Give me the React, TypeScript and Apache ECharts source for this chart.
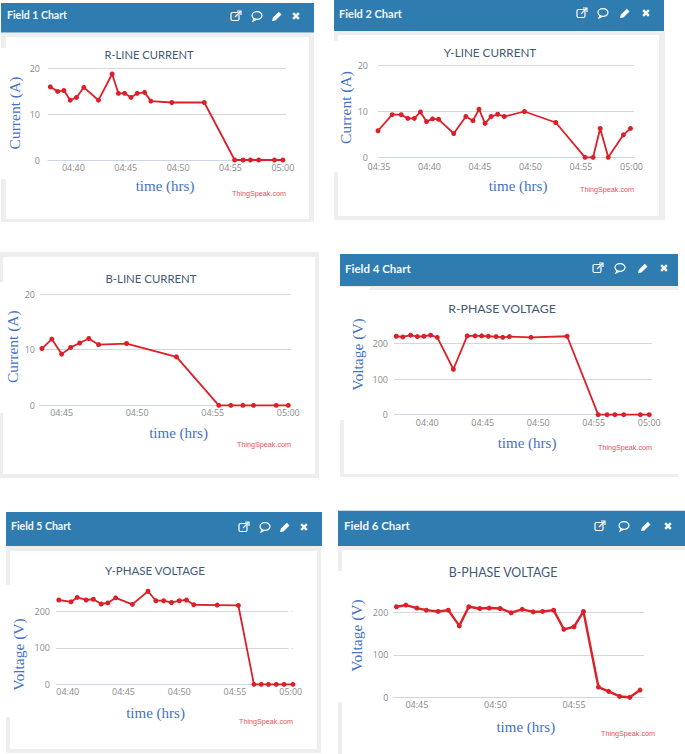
import React, { useEffect, useRef } from 'react';
import * as echarts from 'echarts';

// x values are minutes after 04:00
const field1Minutes = [37.8, 38.5, 39.1, 39.7, 40.3, 41.0, 42.4, 43.7, 44.3, 44.9, 45.5, 46.1, 46.8, 47.4, 49.4, 52.5, 55.4, 56.2, 56.9, 57.7, 59.2, 60.0];
const field1Values = [15.9, 14.9, 15.1, 13.0, 13.6, 15.8, 13.0, 18.7, 14.5, 14.5, 13.6, 14.5, 14.7, 12.8, 12.5, 12.5, 0, 0, 0, 0, 0, 0];

const field2Minutes = [34.9, 36.3, 37.2, 37.85, 38.5, 39.1, 39.7, 40.3, 40.9, 42.4, 43.6, 44.3, 44.9, 45.5, 46.1, 46.75, 47.4, 49.4, 52.5, 55.4, 56.2, 56.9, 57.7, 59.2, 59.9];
const field2Values = [5.8, 9.3, 9.3, 8.5, 8.5, 9.9, 7.8, 8.4, 8.3, 5.2, 8.9, 8.0, 10.5, 7.4, 8.9, 9.4, 8.9, 10.0, 7.6, 0, 0, 6.3, 0, 4.9, 6.3];

const field3Minutes = [43.7, 44.35, 45.0, 45.6, 46.2, 46.8, 47.45, 49.3, 52.6, 55.4, 56.2, 57.0, 57.7, 59.2, 60.0];
const field3Values = [10.2, 11.9, 9.2, 10.4, 11.2, 12.0, 10.9, 11.1, 8.7, 0, 0, 0, 0, 0, 0];

const field4Minutes = [37.2, 37.8, 38.5, 39.1, 39.7, 40.3, 40.9, 42.35, 43.6, 44.3, 44.9, 45.5, 46.2, 46.8, 47.4, 49.35, 52.6, 55.4, 56.2, 56.9, 57.7, 59.2, 60.0];
const field4Values = [221, 219, 224, 220, 221, 224, 218, 128, 222, 222, 222, 221, 220, 218, 220, 218, 221, 0, 0, 0, 0, 0, 0];

const field5Minutes = [39.2, 40.3, 40.85, 41.65, 42.3, 43.0, 43.6, 44.3, 45.8, 47.2, 47.9, 48.6, 49.3, 50.0, 50.65, 51.3, 53.4, 55.3, 56.7, 57.35, 58.0, 58.7, 59.4, 60.2];
const field5Values = [231, 226, 238, 231, 233, 220, 223, 237, 219, 255, 229, 229, 224, 229, 231, 218, 217, 216, 0, 0, 0, 0, 0, 0];

const field6Minutes = [43.7, 44.3, 45.0, 45.6, 46.35, 47.0, 47.7, 48.3, 49.0, 49.6, 50.3, 51.0, 51.7, 52.4, 53.0, 53.7, 54.35, 55.0, 55.6, 56.55, 57.2, 57.9, 58.55, 59.2];
const field6Values = [213, 217, 210, 205, 202, 205, 168, 213, 209, 210, 209, 199, 207, 201, 202, 205, 160, 166, 202, 24, 14, 2, 0, 17];

const ticksFrom35 = [35, 40, 45, 50, 55, 60];
const ticksFrom40 = [40, 45, 50, 55, 60];
const ticksFrom45 = [45, 50, 55, 60];

const BLUE = '#2e7cb0';
const RED = '#dc2029';
const AXIS_NAME = '#4472c4';
const SERIF = '"Liberation Serif", serif';

const charts = [
  { field: 'Field 1 Chart', headSize: 10.5, title: 'R-LINE CURRENT', titleSize: 11.2, yName: 'Current (A)', minutes: field1Minutes, values: field1Values, ticks: ticksFrom40, xMin: 37.58, xMax: 60.3, yMax: 20, step: 10, left: 48, right: 286, top: 68, bottom: 160, titleX: 149, titleY: 54, headX: 7, headY: 15, icons: [236, 257, 277, 296], iconY: 16, credit: [286, 193], xShift: -2, xGap: 18, xMargin: 3, yGap: 26, yShift: 1, yMargin: 8, lineWidth: 1.8 },
  { field: 'Field 2 Chart', headSize: 11, title: 'Y-LINE CURRENT', titleSize: 11.7, yName: 'Current (A)', minutes: field2Minutes, values: field2Values, ticks: ticksFrom35, xMin: 34.9, xMax: 60.25, yMax: 20, step: 10, left: 378, right: 634, top: 65.7, bottom: 157.3, titleX: 490, titleY: 52, headX: 339, headY: 13, icons: [582, 603, 625, 646], iconY: 13, credit: [634, 189], xShift: 12, xGap: 21, xMargin: 5, yGap: 24, yShift: 4, yMargin: 10, lineWidth: 1.8 },
  { field: '', headSize: 11, title: 'B-LINE CURRENT', titleSize: 11.4, yName: 'Current (A)', minutes: field3Minutes, values: field3Values, ticks: ticksFrom45, xMin: 43.57, xMax: 60.18, yMax: 20, step: 10, left: 40, right: 291, top: 294, bottom: 405.3, titleX: 151, titleY: 278, headX: 0, headY: 0, icons: [], iconY: 0, credit: [291, 444], xShift: 13, xGap: 20, xMargin: 3, yGap: 19, yShift: 3, yMargin: 5, lineWidth: 1.8 },
  { field: 'Field 4 Chart', headSize: 11.5, title: 'R-PHASE VOLTAGE', titleSize: 12.3, yName: 'Voltage (V)', minutes: field4Minutes, values: field4Values, ticks: ticksFrom40, xMin: 37.0, xMax: 60.25, yMax: 300, step: 100, left: 394, right: 652, top: 308.2, bottom: 414.7, titleX: 502, titleY: 308, headX: 345, headY: 268, icons: [598, 620, 643, 664], iconY: 268, credit: [652, 447], xShift: 4, xGap: 21, xMargin: 3, yGap: 29, yShift: 7, yMargin: 6, lineWidth: 1.8 },
  { field: 'Field 5 Chart', headSize: 10.5, title: 'Y-PHASE VOLTAGE', titleSize: 11.5, yName: 'Voltage (V)', minutes: field5Minutes, values: field5Values, ticks: ticksFrom40, xMin: 38.95, xMax: 60.2, yMax: 300, step: 100, left: 56, right: 293, top: 574.8, bottom: 684.3, titleX: 155, titleY: 570, headX: 11, headY: 526, icons: [244, 265, 285, 304], iconY: 527, credit: [293, 721], xShift: -19, xGap: 21, xMargin: 3, yGap: 30, yShift: -25, yMargin: 6, lineWidth: 1.8 },
  { field: 'Field 6 Chart', headSize: 11.5, title: 'B-PHASE VOLTAGE', titleSize: 12.4, yName: 'Voltage (V)', minutes: field6Minutes, values: field6Values, ticks: ticksFrom45, xMin: 43.5, xMax: 59.47, yMax: 300, step: 100, left: 393.3, right: 644.3, top: 569.8, bottom: 697.3, titleX: 503, titleY: 572, headX: 344, headY: 525, icons: [600, 624, 646, 668], iconY: 526, credit: [655, 733], xShift: 7, xGap: 22, xMargin: 3, yGap: 29, yShift: -2, yMargin: 5, lineWidth: 2.4 },
];

// x, y, w, h of the pasted screenshot frames
const grayPanels = [[1, 33, 313, 189], [334, 31, 331, 189], [0, 252, 319, 226], [340, 286, 338, 191], [6, 546, 315, 207], [338, 546, 347, 208]];
const whitePanels = [[6, 37, 303, 182], [338, 35, 321, 181], [3, 257, 312, 217], [344, 290, 334, 184], [10, 551, 307, 198], [342, 550, 343, 204]];
const whitePatches = [[0, 48, 6, 131], [334, 41, 4, 131], [0, 282, 4, 131], [340, 287, 30, 3], [340, 290, 4, 130], [6, 585, 4, 132], [338, 571, 5, 131]];
const headers = [[1, 3, 313, 29.5], [334, 0, 330, 31], [340, 254, 338, 32], [6, 512, 316, 34], [338, 510.7, 347, 35.3]];
// field 5's grid lines break just before their last dot
const gridGap = [288.5, 600, 3, 87];

const rectOf = (r: number[], fill: string, z: number) => ({
  type: 'rect', z, silent: true,
  shape: { x: r[0], y: r[1], width: r[2], height: r[3] },
  style: { fill },
});

const headerIcons = (xs: number[], y: number) => {
  if (xs.length === 0) return [];
  const stroke = { stroke: '#fff', lineWidth: 1.2, fill: 'none' };
  return [
    { type: 'group', x: xs[0], y, z: -5, children: [
      { type: 'rect', shape: { x: -5, y: -3.5, width: 8, height: 8, r: 1.5 }, style: stroke },
      { type: 'line', shape: { x1: -1, y1: 1, x2: 4.5, y2: -4.5 }, style: stroke },
      { type: 'polyline', shape: { points: [[1, -5], [5, -5], [5, -1]] }, style: stroke },
    ] },
    { type: 'group', x: xs[1], y, z: -5, children: [
      { type: 'ellipse', shape: { cx: 0, cy: -0.5, rx: 5, ry: 3.8 }, style: stroke },
      { type: 'polyline', shape: { points: [[-3, 2.5], [-4, 5], [-0.5, 3.3]] }, style: stroke },
    ] },
    { type: 'group', x: xs[2], y, z: -5, children: [
      { type: 'polygon', shape: { points: [[-5, 5], [-4.2, 1.8], [1.8, -4.2], [4.5, -1.6], [-1.6, 4.4]] }, style: { fill: '#fff' } },
    ] },
    { type: 'group', x: xs[3], y, z: -5, children: [
      { type: 'line', shape: { x1: -2.8, y1: -2.8, x2: 2.8, y2: 2.8 }, style: { stroke: '#fff', lineWidth: 2.4 } },
      { type: 'line', shape: { x1: -2.8, y1: 2.8, x2: 2.8, y2: -2.8 }, style: { stroke: '#fff', lineWidth: 2.4 } },
    ] },
  ];
};

const clock = (v: number) => {
  const h = 4 + Math.floor(v / 60);
  const m = v % 60;
  return `${String(h).padStart(2, '0')}:${String(m).padStart(2, '0')}`;
};

const WIDTH = 685;
const HEIGHT = 754;

const App: React.FC = () => {
  const chartRef = useRef<HTMLDivElement>(null);

  useEffect(() => {
    if (!chartRef.current) return;
    const chart = echarts.init(chartRef.current, undefined, { renderer: 'svg' });

    const graphics: any[] = [
      ...grayPanels.map((r) => rectOf(r, '#eeeeee', -10)),
      ...whitePanels.map((r) => rectOf(r, '#ffffff', -9)),
      ...whitePatches.map((r) => rectOf(r, '#ffffff', -8)),
      ...headers.map((r) => rectOf(r, BLUE, -7)),
      rectOf(gridGap, '#ffffff', 1),
    ];
    charts.forEach((c) => {
      if (c.field) {
        graphics.push({
          type: 'text', x: c.headX, y: c.headY, z: -5,
          style: { text: c.field, fill: '#f4f8fb', font: `bold ${c.headSize}px Lato`, textVerticalAlign: 'middle' },
        });
      }
      graphics.push(...headerIcons(c.icons, c.iconY));
      graphics.push({
        type: 'text', x: c.credit[0], y: c.credit[1], z: 5,
        style: { text: 'ThingSpeak.com', fill: '#e8505a', font: '7.2px "Liberation Sans"', textAlign: 'right', textVerticalAlign: 'middle' },
      });
    });

    chart.setOption({
      animation: false,
      backgroundColor: '#ffffff',
      title: charts.map((c) => ({
        text: c.title,
        left: c.titleX,
        top: c.titleY - 8,
        textAlign: 'center',
        padding: 0,
        textStyle: { fontFamily: 'Lato', fontWeight: 'normal', fontSize: c.titleSize, color: '#3f5a75', lineHeight: 16 },
      })),
      grid: charts.map((c) => ({
        left: c.left,
        top: c.top,
        width: c.right - c.left,
        height: c.bottom - c.top,
        containLabel: false,
      })),
      xAxis: charts.map((c, i) => ({
        type: 'value',
        gridIndex: i,
        min: c.xMin,
        max: c.xMax,
        name: 'time (hrs)',
        nameLocation: 'middle',
        nameGap: c.xGap,
        nameTextStyle: {
          fontFamily: SERIF, fontSize: 15, color: AXIS_NAME, verticalAlign: 'top',
          padding: c.xShift >= 0 ? [0, 0, 0, c.xShift * 2] : [0, -c.xShift * 2, 0, 0],
        },
        axisLine: { show: true, onZero: false, lineStyle: { color: '#ccd6eb', width: 1 } },
        axisTick: { show: false },
        splitLine: { show: false },
        axisLabel: {
          customValues: c.ticks,
          formatter: clock,
          color: '#8a8a8a',
          fontFamily: 'Open Sans',
          fontSize: 9,
          margin: c.xMargin,
        },
      })),
      yAxis: charts.map((c, i) => ({
        type: 'value',
        gridIndex: i,
        min: 0,
        max: c.yMax,
        interval: c.step,
        name: c.yName,
        nameLocation: 'middle',
        nameGap: c.yGap,
        nameTextStyle: {
          fontFamily: SERIF, fontSize: 15.5, color: AXIS_NAME,
          padding: c.yShift >= 0 ? [0, 0, 0, c.yShift * 2] : [0, -c.yShift * 2, 0, 0],
        },
        axisLine: { show: false },
        axisTick: { show: false },
        splitLine: {
          show: true,
          showMaxLine: c.yMax === 20,
          lineStyle: { color: '#d6d6d6', width: 1 },
        },
        axisLabel: {
          color: '#8a8a8a',
          fontFamily: 'Open Sans',
          fontSize: 9,
          margin: c.yMargin,
          showMaxLabel: c.yMax === 20,
        },
      })),
      series: charts.map((c, i) => ({
        type: 'line',
        name: c.title,
        xAxisIndex: i,
        yAxisIndex: i,
        data: c.minutes.map((m, j) => [m, c.values[j]]),
        clip: false,
        symbol: 'circle',
        symbolSize: 5,
        showSymbol: true,
        lineStyle: { color: RED, width: c.lineWidth },
        itemStyle: { color: RED },
      })),
      graphic: { elements: graphics },
    });

    return () => {
      chart.dispose();
    };
  }, []);

  return (
    <div
      ref={chartRef}
      style={{ position: 'absolute', left: 0, top: 0, width: `${WIDTH}px`, height: `${HEIGHT}px` }}
    />
  );
};

export default App;
